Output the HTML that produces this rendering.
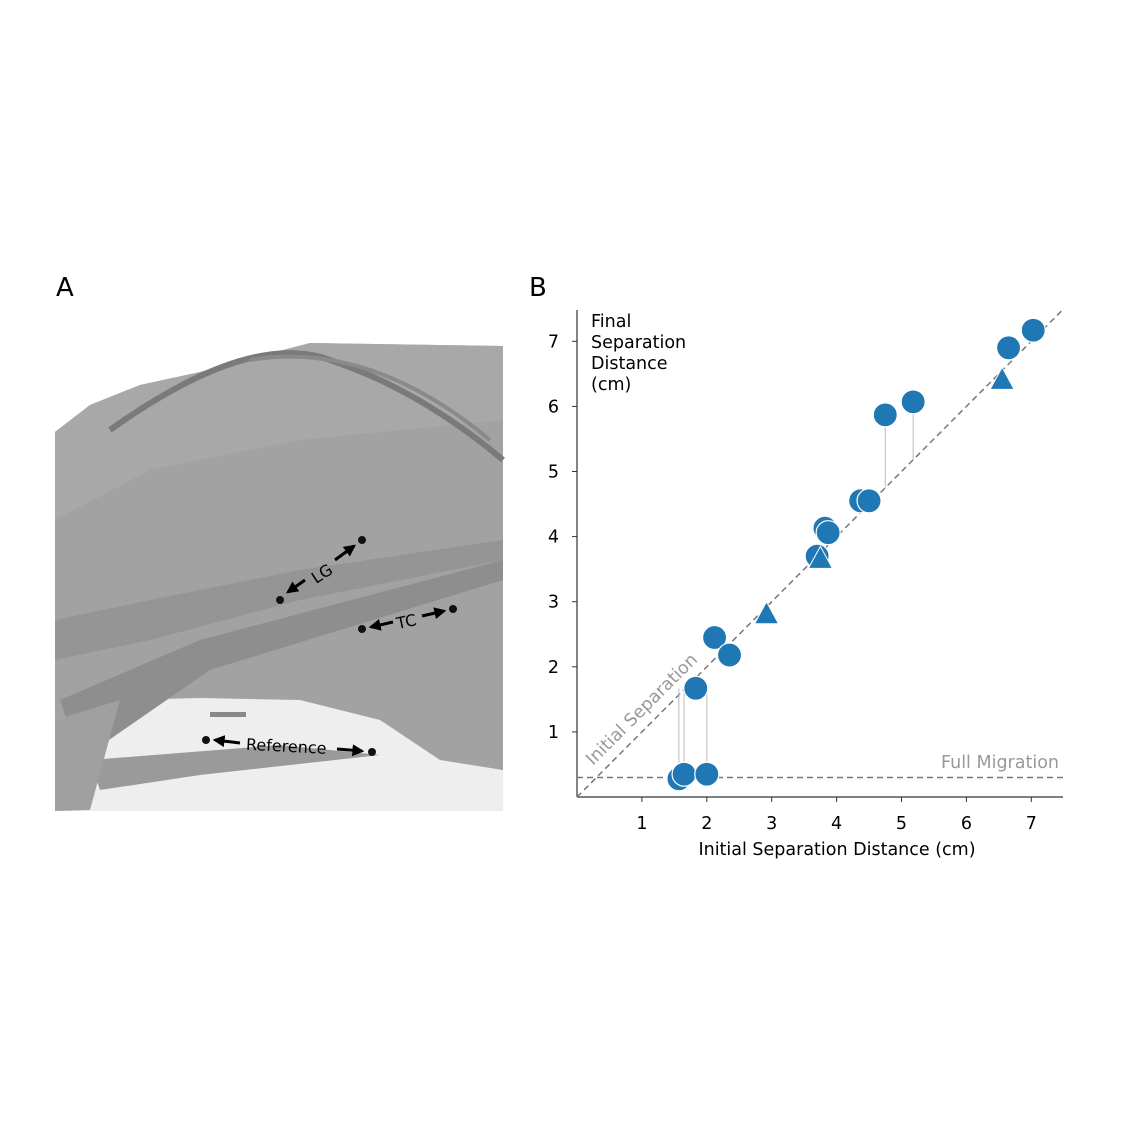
<!DOCTYPE html>
<html><head><meta charset="utf-8"><style>
body{margin:0;background:#fff;}
svg{display:block;font-family:"DejaVu Sans","Liberation Sans",sans-serif;}
</style></head><body>
<svg width="1124" height="1124" viewBox="0 0 1124 1124">
<defs><marker id="ah" viewBox="0 0 10 10" refX="8" refY="5" markerWidth="4" markerHeight="4" orient="auto-start-reverse"><path d="M0,0 L10,5 L0,10 z" fill="#000"/></marker></defs>
<text x="56" y="296" font-size="26">A</text>
<text x="529" y="296" font-size="26">B</text>
<g>
 <rect x="55" y="340" width="448" height="471" fill="#ffffff"/>
 <rect x="55" y="690" width="448" height="121" fill="#eeeeee"/>
 <polygon points="55,432 90,405 140,385 200,372 260,356 310,343 503,346 503,770 440,760 380,720 300,700 200,698 120,700 55,720" fill="#a2a2a2"/>
 <polygon points="55,432 90,405 140,385 200,372 260,356 310,343 503,346 503,420 300,440 150,470 55,520" fill="#a8a8a8"/>
 <polygon points="55,620 150,600 300,570 503,540 503,560 300,600 150,640 55,660" fill="#959595"/>
 <polygon points="60,700 200,640 503,560 503,580 210,670 80,760" fill="#8e8e8e"/>
 <polygon points="90,760 280,745 380,755 200,775 100,790" fill="#9a9a9a"/>
 <polygon points="55,720 120,700 90,810 55,811" fill="#a0a0a0"/>
 <path d="M110,430 Q250,330 330,360 Q420,390 503,460" stroke="#7a7a7a" stroke-width="6" fill="none"/>
 <path d="M250,360 Q370,340 490,440" stroke="#8a8a8a" stroke-width="4" fill="none"/>
 <rect x="210" y="712" width="36" height="5" fill="#888"/>
 <circle cx="280" cy="600" r="4" fill="#111"/><circle cx="362" cy="540" r="4" fill="#111"/>
 <circle cx="362" cy="629" r="4" fill="#111"/><circle cx="453" cy="609" r="4" fill="#111"/>
 <circle cx="206" cy="740" r="4" fill="#111"/><circle cx="372" cy="752" r="4" fill="#111"/>
 <g stroke="#000" stroke-width="3">
  <line x1="305" y1="580" x2="288" y2="592" marker-end="url(#ah)"/><line x1="335" y1="560" x2="354" y2="546" marker-end="url(#ah)"/>
  <line x1="393" y1="622" x2="371" y2="627" marker-end="url(#ah)"/><line x1="422" y1="616" x2="444" y2="611" marker-end="url(#ah)"/>
  <line x1="240" y1="743" x2="215" y2="740" marker-end="url(#ah)"/><line x1="337" y1="749" x2="362" y2="751" marker-end="url(#ah)"/>
 </g>
 <g font-size="16" fill="#000">
  <text x="310" y="580" transform="rotate(-33 320 572)">LG</text>
  <text x="396" y="627" transform="rotate(-12 407 620)">TC</text>
  <text x="246" y="752" transform="rotate(3 290 747)">Reference</text>
 </g>
</g>
<g id="chart"></g>
</svg>
<script>
const circleX=[1.57,1.65,2.0,1.83,2.12,2.35,3.7,3.82,3.87,4.37,4.5,4.75,5.18,6.65,7.03];
const circleY=[0.28,0.35,0.35,1.67,2.45,2.18,3.7,4.13,4.06,4.55,4.55,5.87,6.07,6.9,7.17];
const triX=[2.92,3.75,6.55];
const triY=[2.8,3.65,6.4];
const linkX=[1.57,1.65,2.0,4.75,5.18];
const linkY0=[0.28,0.35,0.35,4.75,5.18];
const linkY1=[1.67,1.67,1.67,5.87,6.07];
const xTicks=[1,2,3,4,5,6,7];
const yTicks=[1,2,3,4,5,6,7];
const fullMigration=0.3;
const X=v=>577+v*64.9, Y=v=>797-v*65.1;
const g=document.getElementById('chart'), NS='http://www.w3.org/2000/svg';
function mk(t,a,p){const e=document.createElementNS(NS,t);for(const k in a)e.setAttribute(k,a[k]);(p||g).appendChild(e);return e;}
let e;
e=mk('line',{x1:577,y1:310,x2:577,y2:797,stroke:'#333','stroke-width':1.2});


e=mk('line',{x1:577,y1:797,x2:1063,y2:797,stroke:'#333','stroke-width':1.2});


xTicks.forEach(t=>{
 mk('line',{x1:X(t),y1:797,x2:X(t),y2:802,stroke:'#333'});
 e=mk('text',{x:X(t),y:829,'text-anchor':'middle','font-size':17.5});e.textContent=t;
 
 
});
yTicks.forEach(t=>{
 mk('line',{x1:572,y1:Y(t),x2:577,y2:Y(t),stroke:'#333'});
 e=mk('text',{x:559,y:Y(t)+6,'text-anchor':'end','font-size':17.5});e.textContent=t;
 
 
});
e=mk('line',{x1:X(0),y1:Y(0),x2:X(7.5),y2:Y(7.5),stroke:'#777','stroke-width':1.5,'stroke-dasharray':'6,4'});


e=mk('line',{x1:577,y1:Y(fullMigration),x2:1063,y2:Y(fullMigration),stroke:'#777','stroke-width':1.5,'stroke-dasharray':'6,4'});


e=mk('text',{x:1059,y:768,'text-anchor':'end','font-size':17.5,fill:'#999'});e.textContent='Full Migration';


e=mk('text',{x:593,y:766,'font-size':17.5,fill:'#999',transform:'rotate(-45 593 766)'});e.textContent='Initial Separation';


linkX.forEach((x,i)=>{
 e=mk('line',{x1:X(x),y1:Y(linkY0[i]),x2:X(x),y2:Y(linkY1[i]),stroke:'#bbb','stroke-width':1});
 
 
});
circleX.forEach((x,i)=>{
 e=mk('circle',{cx:X(x),cy:Y(circleY[i]),r:12,fill:'#1f77b4',stroke:'#fff','stroke-width':1.2});
 
 
});
triX.forEach((x,i)=>{
 const cx=X(x),cy=Y(triY[i]);
 e=mk('polygon',{points:`${cx},${cy-13} ${cx-12},${cy+9} ${cx+12},${cy+9}`,fill:'#1f77b4',stroke:'#fff','stroke-width':1});
 
 
});
e=mk('text',{x:837,y:855,'text-anchor':'middle','font-size':17.5});e.textContent='Initial Separation Distance (cm)';


const yt=mk('text',{x:591,y:327,'font-size':17.5});


['Final','Separation','Distance','(cm)'].forEach((s,i)=>{const ts=mk('tspan',{x:591,dy:i?21:0},yt);ts.textContent=s;});
</script>
</body></html>
